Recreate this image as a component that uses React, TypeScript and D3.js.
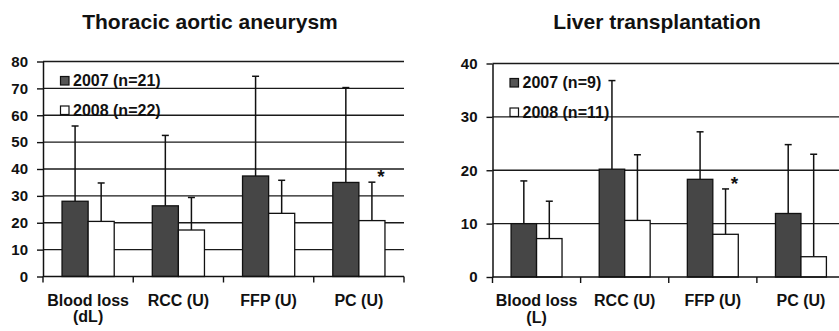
import React, { useEffect, useRef } from "react";
import * as d3 from "d3";

// Thoracic aortic aneurysm panel
const taaCategories = ["Blood loss\n(dL)", "RCC (U)", "FFP (U)", "PC (U)"];
const taa2007 = [28, 26.3, 37.4, 35];
const taa2007Sd = [28, 26.2, 37.1, 35.3];
const taa2008 = [20.5, 17.3, 23.5, 20.8];
const taa2008Sd = [14.3, 12.1, 12.3, 14.3];
const taaTicks = [0, 10, 20, 30, 40, 50, 60, 70, 80];
const taaLegend = ["2007 (n=21)", "2008 (n=22)"];

// Liver transplantation panel
const ltCategories = ["Blood loss\n(L)", "RCC (U)", "FFP (U)", "PC (U)"];
const lt2007 = [10.0, 20.2, 18.3, 11.9];
const lt2007Sd = [8.0, 16.6, 8.9, 12.9];
const lt2008 = [7.2, 10.6, 8.0, 3.8];
const lt2008Sd = [7.0, 12.3, 8.5, 19.2];
const ltTicks = [0, 10, 20, 30, 40];
const ltLegend = ["2007 (n=9)", "2008 (n=11)"];

const FONT = "'Liberation Sans', Arial, sans-serif";

const App: React.FC = () => {
  const svgRef = useRef<SVGSVGElement | null>(null);

  useEffect(() => {
    if (!svgRef.current) return;
    const svg = d3.select(svgRef.current);
    svg.selectAll("*").remove();

    const panels = [
      {
        title: "Thoracic aortic aneurysm",
        titleX: 210,
        cats: taaCategories,
        a: taa2007, aSd: taa2007Sd, b: taa2008, bSd: taa2008Sd,
        ticks: taaTicks, legend: taaLegend,
        x0: 43, x1: 404, y0: 276.5, y1: 61.5, star: 3,
      },
      {
        title: "Liver transplantation",
        titleX: 657,
        cats: ltCategories,
        a: lt2007, aSd: lt2007Sd, b: lt2008, bSd: lt2008Sd,
        ticks: ltTicks, legend: ltLegend,
        x0: 492.5, x1: 845, y0: 277, y1: 63.5, star: 2,
      },
    ];

    panels.forEach((p) => {
      const g = svg.append("g");
      const yMax = p.ticks[p.ticks.length - 1];
      const y = d3.scaleLinear().domain([0, yMax]).range([p.y0, p.y1]);
      const x = d3.scaleBand<string>().domain(p.cats).range([p.x0, p.x1]).paddingInner(0).paddingOuter(0);
      const xs = d3.scaleBand<string>().domain(["2007", "2008"]).range([0, x.bandwidth()]).paddingInner(0).paddingOuter(0.73);

      // title
      g.append("text")
        .attr("x", p.titleX)
        .attr("y", 28.5)
        .attr("text-anchor", "middle")
        .style("font-family", FONT)
        .style("font-weight", "bold")
        .style("font-size", "21px")
        .attr("fill", "#111")
        .text(p.title);

      // gridlines
      g.selectAll(".grid")
        .data(p.ticks.slice(1))
        .enter()
        .append("line")
        .attr("x1", p.x0)
        .attr("x2", p.x1)
        .attr("y1", (d) => y(d))
        .attr("y2", (d) => y(d))
        .attr("stroke", "#1a1a1a")
        .attr("stroke-width", 1.4);

      // y axis
      const yAxis = g.append("g")
        .attr("transform", `translate(${p.x0},0)`)
        .call(d3.axisLeft(y).tickValues(p.ticks).tickSize(6).tickSizeOuter(0).tickPadding(9));
      yAxis.select(".domain").attr("stroke", "#111").attr("stroke-width", 1.5);
      yAxis.selectAll(".tick line").attr("stroke", "#111").attr("stroke-width", 1.4);
      yAxis.selectAll(".tick text")
        .attr("fill", "#111")
        .style("font-family", FONT)
        .style("font-weight", "bold")
        .style("font-size", "15px");

      // bars + error bars
      const series = [
        { key: "2007", vals: p.a, sd: p.aSd, fill: "#464646" },
        { key: "2008", vals: p.b, sd: p.bSd, fill: "#ffffff" },
      ];
      series.forEach((s) => {
        const sg = g.append("g");
        const bx = (i: number) => (x(p.cats[i]) as number) + (xs(s.key) as number);
        const bw = xs.bandwidth();
        // error lines
        sg.selectAll(".err")
          .data(s.vals)
          .enter()
          .append("line")
          .attr("x1", (_d, i) => bx(i) + bw / 2)
          .attr("x2", (_d, i) => bx(i) + bw / 2)
          .attr("y1", (d) => y(d))
          .attr("y2", (d, i) => y(d + s.sd[i]))
          .attr("stroke", "#111")
          .attr("stroke-width", 1.5);
        sg.selectAll(".cap")
          .data(s.vals)
          .enter()
          .append("line")
          .attr("x1", (_d, i) => bx(i) + bw / 2 - 3.5)
          .attr("x2", (_d, i) => bx(i) + bw / 2 + 3.5)
          .attr("y1", (d, i) => y(d + s.sd[i]))
          .attr("y2", (d, i) => y(d + s.sd[i]))
          .attr("stroke", "#111")
          .attr("stroke-width", 1.5);
        sg.selectAll(".bar")
          .data(s.vals)
          .enter()
          .append("rect")
          .attr("x", (_d, i) => bx(i))
          .attr("y", (d) => y(d))
          .attr("width", bw)
          .attr("height", (d) => y(0) - y(d))
          .attr("fill", s.fill)
          .attr("stroke", "#111")
          .attr("stroke-width", 1.3);
      });

      // significance star
      const si = p.star;
      const starX = (x(p.cats[si]) as number) + (xs("2008") as number) + xs.bandwidth() / 2 + 9;
      const starY = y(p.b[si] + p.bSd[si]) - 8;
      g.append("text")
        .attr("x", starX)
        .attr("y", starY + 9)
        .attr("text-anchor", "middle")
        .style("font-family", FONT)
        .style("font-weight", "bold")
        .style("font-size", "19px")
        .attr("fill", "#111")
        .text("*");

      // x axis
      g.append("line")
        .attr("x1", p.x0)
        .attr("x2", p.x1)
        .attr("y1", y(0))
        .attr("y2", y(0))
        .attr("stroke", "#111")
        .attr("stroke-width", 1.6);
      const bounds = p.cats.map((c) => x(c) as number).concat([p.x1]);
      g.selectAll(".xtick")
        .data(bounds)
        .enter()
        .append("line")
        .attr("x1", (d) => d)
        .attr("x2", (d) => d)
        .attr("y1", y(0))
        .attr("y2", y(0) + 6)
        .attr("stroke", "#111")
        .attr("stroke-width", 1.4);

      // category labels
      p.cats.forEach((c) => {
        const lines = c.split("\n");
        const t = g.append("text")
          .attr("text-anchor", "middle")
          .style("font-family", FONT)
          .style("font-weight", "bold")
          .style("font-size", "16px")
          .attr("fill", "#111");
        lines.forEach((ln, k) => {
          t.append("tspan")
            .attr("x", (x(c) as number) + x.bandwidth() / 2)
            .attr("y", y(0) + 29 + k * 16.5)
            .text(ln);
        });
      });

      // legend
      p.legend.forEach((lbl, k) => {
        const ly = p.y1 + 24.5 + k * 29.5;
        g.append("rect")
          .attr("x", p.x0 + 17.5)
          .attr("y", ly - 9.5)
          .attr("width", 8.5)
          .attr("height", 8.5)
          .attr("fill", k === 0 ? "#555" : "#fff")
          .attr("stroke", "#111")
          .attr("stroke-width", 1.2);
        g.append("text")
          .attr("x", p.x0 + 30)
          .attr("y", ly)
          .style("font-family", FONT)
          .style("font-weight", "bold")
          .style("font-size", "16px")
          .attr("fill", "#111")
          .text(lbl);
      });
    });
  }, []);

  return (
    <svg
      ref={svgRef}
      width={839}
      height={331}
      style={{ position: "absolute", left: 0, top: 0, background: "#fff" }}
    />
  );
};

export default App;
